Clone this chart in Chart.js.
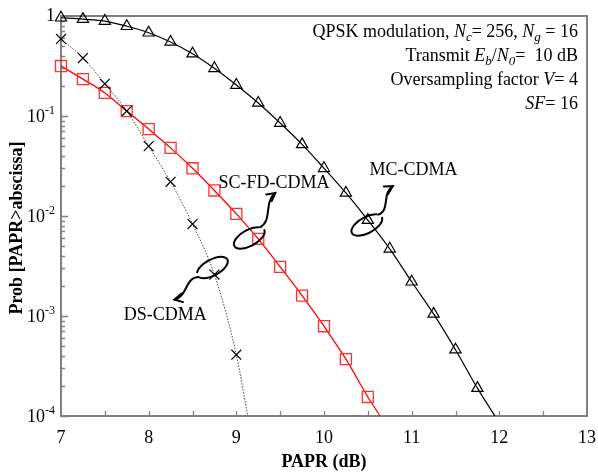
<!DOCTYPE html>
<html><head><meta charset="utf-8">
<script src="https://cdn.jsdelivr.net/npm/chart.js@4/dist/chart.umd.min.js"></script>
<style>html,body{margin:0;padding:0;background:#fff}#wrap{width:598px;height:473px}</style>
</head><body><div id="wrap"><canvas id="c" width="598" height="473"></canvas></div>
<script>
// ---- data ----
const papr = [7, 7.25, 7.5, 7.75, 8, 8.25, 8.5, 8.75, 9, 9.25, 9.5, 9.75, 10, 10.25, 10.5, 10.75, 11, 11.25, 11.5, 11.75];
const mcCdma = [0.96, 0.93, 0.89, 0.79, 0.68, 0.55, 0.42, 0.30, 0.204, 0.135, 0.085, 0.052, 0.030, 0.017, 0.0091, 0.0047, 0.0022, 0.00105, 0.00046, 0.00019];
const scFdCdma = [0.316, 0.234, 0.170, 0.112, 0.074, 0.048, 0.030, 0.018, 0.0105, 0.0059, 0.0031, 0.0016, 0.00079, 0.00037, 0.000155];
const dsCdma = [0.59, 0.38, 0.21, 0.112, 0.050, 0.022, 0.0083, 0.0026, 0.00041];
// where each curve leaves the plot at the bottom axis
const mcTail = [11.95, 1e-4];
const scTail = [10.64, 1e-4];
const dsTail = [9.13, 1e-4];
const xTickValues = [7, 8, 9, 10, 11, 12, 13];
const xTickLabels = ['7', '8', '9', '10', '11', '12', '13'];
const yTickValues = [1, 1e-1, 1e-2, 1e-3, 1e-4];
const yTickExps = ['', '-1', '-2', '-3', '-4'];
const infoLines = [
  [['QPSK modulation, '], ['N', 'i'], ['c', 'is'], ['= 256, '], ['N', 'i'], ['g', 'is'], [' = 16']],
  [['Transmit '], ['E', 'i'], ['b', 'is'], ['/'], ['N', 'i'], ['0', 'is'], ['=  10 dB']],
  [['Oversampling factor '], ['V', 'i'], ['= 4']],
  [['SF', 'i'], ['= 16']]
];
// curve labels and spiral markers (anchor in data units)
const curveLabels = [
  {text: 'SC-FD-CDMA', x: 9.43, y: 0.0214},
  {text: 'MC-CDMA', x: 11.02, y: 0.0288},
  {text: 'DS-CDMA', x: 8.19, y: 0.00102}
];
const spirals = [
  {x: 9.25, y: 0.0059, dx: -9, dy: -1, tx: 17, ty: -46},
  {x: 10.5, y: 0.0091, dx: -1, dy: 5, tx: 25, ty: -34},
  {x: 8.75, y: 0.0026, dx: -2, dy: -7, tx: -40, ty: 25}
];

const SERIF = '"Liberation Serif", "Times New Roman", serif';
function pts(xs, ys, tail) {
  const a = ys.map((v, i) => ({x: xs[i], y: v}));
  a.push({x: tail[0], y: tail[1]});
  return a;
}
function radii(n, r) { const a = new Array(n).fill(r); a.push(0); return a; }

function drawRich(ctx, segs, right, base) {
  const fontFor = s => {
    const it = s[1] && s[1].includes('i') ? 'italic ' : '';
    const sz = s[1] && s[1].includes('s') ? 13 : 18;
    return it + sz + 'px ' + SERIF;
  };
  let total = 0;
  const ws = segs.map(s => { ctx.font = fontFor(s); const w = ctx.measureText(s[0]).width; total += w; return w; });
  let x = right - total;
  ctx.textAlign = 'left'; ctx.textBaseline = 'alphabetic'; ctx.fillStyle = '#000';
  segs.forEach((s, i) => {
    ctx.font = fontFor(s);
    const sub = s[1] && s[1].includes('s');
    ctx.fillText(s[0], x, base + (sub ? 4 : 0));
    x += ws[i];
  });
}

function drawSpiral(ctx, cx, cy, tx, ty) {
  const rx = 17, ry = 8, rot = -0.5;
  ctx.save();
  ctx.strokeStyle = '#000'; ctx.lineWidth = 2; ctx.lineCap = 'round';
  const dirAng = Math.atan2(ty - cy, tx - cx);
  const th = dirAng - rot;
  const sx = cx + rx * Math.cos(th) * Math.cos(rot) - ry * Math.sin(th) * Math.sin(rot);
  const sy = cy + rx * Math.cos(th) * Math.sin(rot) + ry * Math.sin(th) * Math.cos(rot);
  ctx.beginPath();
  ctx.ellipse(cx, cy, rx, ry, rot, th + 0.6, th + 2 * Math.PI - 0.15);
  ctx.stroke();
  const vx = tx - sx, vy = ty - sy, L = Math.hypot(vx, vy);
  const nx = -vy / L, ny = vx / L;
  const c1x = sx + vx * 0.3 + nx * 9, c1y = sy + vy * 0.3 + ny * 9;
  const c2x = sx + vx * 0.65 - nx * 7, c2y = sy + vy * 0.65 - ny * 7;
  ctx.beginPath();
  ctx.moveTo(sx, sy);
  ctx.bezierCurveTo(c1x, c1y, c2x, c2y, tx, ty);
  ctx.stroke();
  const a = Math.atan2(ty - c2y, tx - c2x);
  ctx.beginPath();
  ctx.moveTo(tx - 9 * Math.cos(a - 0.5), ty - 9 * Math.sin(a - 0.5));
  ctx.lineTo(tx, ty);
  ctx.lineTo(tx - 9 * Math.cos(a + 0.5), ty - 9 * Math.sin(a + 0.5));
  ctx.stroke();
  ctx.restore();
}

const deco = {
  id: 'deco',
  beforeDatasetsDraw(chart) {
    const {ctx, chartArea: ca, scales: {x, y}} = chart;
    ctx.save();
    ctx.strokeStyle = '#808080'; ctx.lineWidth = 2;
    ctx.strokeRect(ca.left, ca.top, ca.right - ca.left, ca.bottom - ca.top);
    ctx.lineWidth = 1.3;
    ctx.beginPath();
    for (let v = 7.5; v < 13; v += 0.5) {
      const px = Math.round(x.getPixelForValue(v)) + 0.5;
      ctx.moveTo(px, ca.bottom); ctx.lineTo(px, ca.bottom - 5);
    }
    for (let e = -4; e <= 0; e++) {
      for (let m = 1; m <= 9; m++) {
        const v = m * Math.pow(10, e);
        if (v > 1 || v < 1e-4) continue;
        const py = Math.round(y.getPixelForValue(v)) + 0.5;
        const len = m === 1 ? 7 : 4;
        ctx.moveTo(ca.left, py); ctx.lineTo(ca.left + len, py);
      }
    }
    ctx.stroke();
    ctx.restore();
  },
  afterDatasetsDraw(chart) {
    const {ctx, chartArea: ca, scales: {x, y}} = chart;
    ctx.save();
    ctx.fillStyle = '#000';
    // x tick labels
    ctx.font = '18px ' + SERIF; ctx.textAlign = 'center'; ctx.textBaseline = 'middle';
    xTickValues.forEach((v, i) => ctx.fillText(xTickLabels[i], x.getPixelForValue(v), ca.bottom + 22));
    // y tick labels
    yTickValues.forEach((v, i) => {
      const py = y.getPixelForValue(v);
      const right = ca.left - 6;
      ctx.textBaseline = 'middle'; ctx.textAlign = 'left';
      if (!yTickExps[i]) {
        ctx.font = '18px ' + SERIF;
        const w = ctx.measureText('1').width;
        ctx.fillText('1', right - w, py);
      } else {
        ctx.font = '12px ' + SERIF;
        const we = ctx.measureText(yTickExps[i]).width;
        ctx.font = '18px ' + SERIF;
        const wb = ctx.measureText('10').width;
        ctx.fillText('10', right - we - wb, py + 1);
        ctx.font = '12px ' + SERIF;
        ctx.fillText(yTickExps[i], right - we, py - 5);
      }
    });
    // axis titles
    ctx.font = 'bold 18px ' + SERIF; ctx.textAlign = 'center'; ctx.textBaseline = 'middle';
    ctx.fillText('PAPR (dB)', (ca.left + ca.right) / 2, ca.bottom + 46);
    ctx.save();
    ctx.translate(17, (ca.top + ca.bottom) / 2 + 12);
    ctx.rotate(-Math.PI / 2);
    ctx.fillText('Prob [PAPR>abscissa]', 0, 0);
    ctx.restore();
    // info block
    infoLines.forEach((segs, i) => drawRich(ctx, segs, ca.right - 9, ca.top + 21 + i * 24));
    // curve labels
    ctx.font = '18px ' + SERIF; ctx.textAlign = 'center'; ctx.textBaseline = 'middle';
    curveLabels.forEach(l => ctx.fillText(l.text, x.getPixelForValue(l.x), y.getPixelForValue(l.y)));
    // spirals
    spirals.forEach(s => {
      const ax = x.getPixelForValue(s.x), ay = y.getPixelForValue(s.y);
      drawSpiral(ctx, ax + s.dx, ay + s.dy, ax + s.tx, ay + s.ty);
    });
    ctx.restore();
  }
};

new Chart(document.getElementById('c'), {
  type: 'line',
  data: {
    datasets: [
      {
        label: 'DS-CDMA', data: pts(papr, dsCdma, dsTail),
        borderColor: '#444', borderWidth: 1, borderDash: [1.5, 1.5],
        pointStyle: 'crossRot', pointRadius: radii(dsCdma.length, 7),
        pointBorderColor: '#000', pointBorderWidth: 1.2, pointBackgroundColor: 'rgba(0,0,0,0)',
        cubicInterpolationMode: 'monotone', fill: false, clip: 8
      },
      {
        label: 'SC-FD-CDMA', data: pts(papr, scFdCdma, scTail),
        borderColor: '#ff0000', borderWidth: 1.3,
        pointStyle: 'rect', pointRadius: radii(scFdCdma.length, 7.8),
        pointBorderColor: '#ff3030', pointBorderWidth: 1.3, pointBackgroundColor: 'rgba(0,0,0,0)',
        cubicInterpolationMode: 'monotone', fill: false, clip: 8
      },
      {
        label: 'MC-CDMA', data: pts(papr, mcCdma, mcTail),
        borderColor: '#000', borderWidth: 1.2,
        pointStyle: 'triangle', pointRadius: radii(mcCdma.length, 6.5),
        pointBorderColor: '#000', pointBorderWidth: 1.2, pointBackgroundColor: 'rgba(0,0,0,0)',
        cubicInterpolationMode: 'monotone', fill: false, clip: 8
      }
    ]
  },
  options: {
    responsive: false, animation: false, devicePixelRatio: 1,
    layout: {padding: {top: 16, right: 11, left: 0, bottom: 0}},
    plugins: {legend: {display: false}, tooltip: {enabled: false}},
    scales: {
      x: {type: 'linear', min: 7, max: 13, ticks: {display: false}, grid: {display: false}, border: {display: false},
          afterFit: s => { s.height = 57; }},
      y: {type: 'logarithmic', min: 1e-4, max: 1, ticks: {display: false}, grid: {display: false}, border: {display: false},
          afterFit: s => { s.width = 61; }}
    }
  },
  plugins: [deco]
});
</script>
</body></html>
